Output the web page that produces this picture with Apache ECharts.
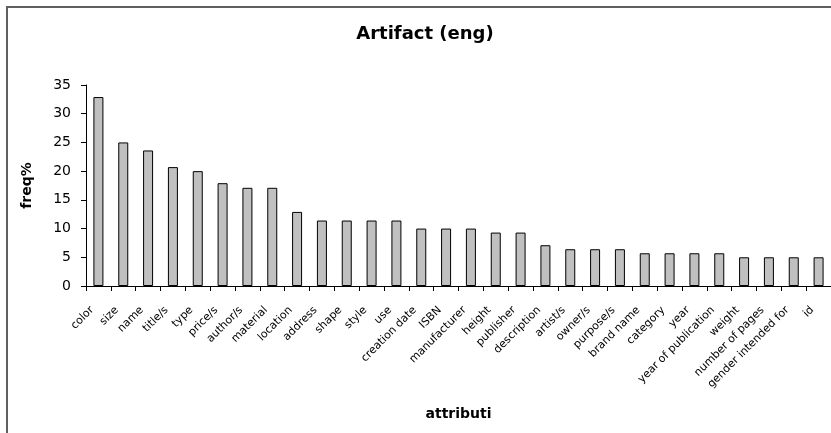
<!DOCTYPE html>
<html>
<head>
<meta charset="utf-8">
<script src="https://cdn.jsdelivr.net/npm/echarts@6/dist/echarts.min.js"></script>
<style>
  html, body { margin: 0; padding: 0; background: #fff; }
  #frame { position: absolute; left: 6px; top: 6px; width: 840px; height: 440px;
           border-left: 2px solid #606060; border-top: 2px solid #606060; }
  #chart { position: absolute; left: 0; top: 0; width: 831px; height: 433px; }
</style>
</head>
<body>
<div id="frame"></div>
<div id="chart"></div>
<script>
// Attribute frequencies (%) for the "Artifact" category
const attributes = [
  'color', 'size', 'name', 'title/s', 'type', 'price/s', 'author/s', 'material',
  'location', 'address', 'shape', 'style', 'use', 'creation date', 'ISBN',
  'manufacturer', 'height', 'publisher', 'description', 'artist/s', 'owner/s',
  'purpose/s', 'brand name', 'category', 'year', 'year of publication', 'weight',
  'number of pages', 'gender intended for', 'id'
];
const freqPct = [
  32.9, 25.0, 23.6, 20.7, 20.0, 17.9, 17.1, 17.1,
  12.9, 11.4, 11.4, 11.4, 11.4, 10.0, 10.0,
  10.0, 9.3, 9.3, 7.1, 6.4, 6.4,
  6.4, 5.7, 5.7, 5.7, 5.7, 5.0,
  5.0, 5.0, 5.0
];
const yTicks = { min: 0, max: 35, step: 5 };

const chart = echarts.init(document.getElementById('chart'), null, { renderer: 'canvas' });
const font = 'DejaVu Sans, Liberation Sans, sans-serif';

chart.setOption({
  animation: false,
  backgroundColor: 'transparent',
  title: {
    text: 'Artifact (eng)',
    left: 420, top: 20, textAlign: 'center',
    textStyle: { fontFamily: font, fontSize: 18, fontWeight: 'bold', color: '#000' }
  },
  grid: { left: 86, right: -3, top: 85, bottom: 147, containLabel: false },
  xAxis: {
    type: 'category',
    data: attributes,
    name: 'attributi',
    nameLocation: 'middle',
    nameGap: 121,
    nameTextStyle: { fontFamily: font, fontSize: 14, fontWeight: 'bold', color: '#000' },
    axisLine: { lineStyle: { color: '#000', width: 1 } },
    axisTick: { show: true, inside: false, length: 5, alignWithLabel: false, lineStyle: { color: '#000' } },
    axisLabel: {
      interval: 0, rotate: 45, margin: 16, padding: [0, 9, 0, 0],
      fontFamily: font, fontSize: 11, color: '#000'
    },
    splitLine: { show: false }
  },
  yAxis: {
    type: 'value',
    min: yTicks.min, max: yTicks.max, interval: yTicks.step,
    name: 'freq%',
    nameLocation: 'middle',
    nameGap: 52,
    nameRotate: 90,
    nameTextStyle: { fontFamily: font, fontSize: 14, fontWeight: 'bold', color: '#000' },
    axisLine: { show: true, lineStyle: { color: '#000', width: 1 } },
    axisTick: { show: true, inside: false, length: 5, lineStyle: { color: '#000' } },
    axisLabel: { margin: 15, fontFamily: font, fontSize: 14, color: '#000' },
    splitLine: { show: false }
  },
  series: [{
    type: 'bar',
    data: freqPct,
    barWidth: 10,
    itemStyle: { color: '#c0c0c0', borderColor: '#000', borderWidth: 1 }
  }]
});
</script>
</body>
</html>
